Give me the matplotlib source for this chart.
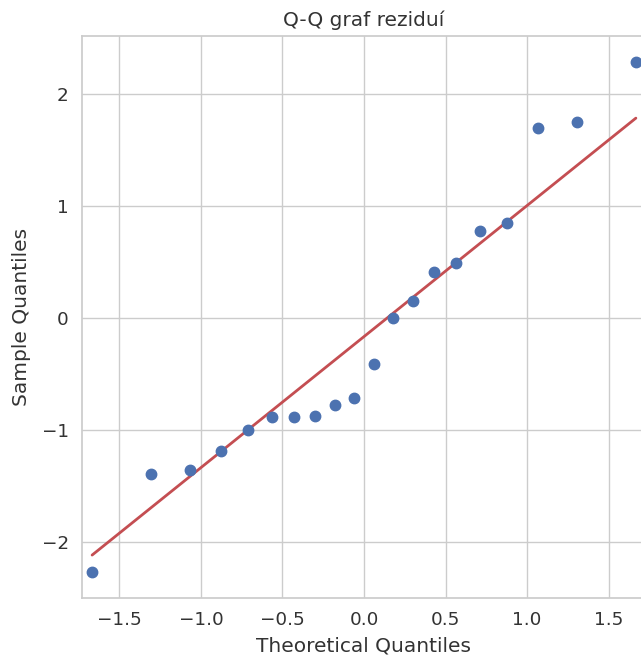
import matplotlib
matplotlib.use("Agg")
import matplotlib.pyplot as plt
import numpy as np
import seaborn as sns

sns.set_theme(style="whitegrid", context="notebook")
plt.rcParams['font.family'] = ['DejaVu Sans']

# Theoretical quantiles (normal) and sample quantiles of residuals
theoretical = [-1.668, -1.309, -1.068, -0.876, -0.712, -0.566, -0.431, -0.303, -0.180, -0.060,
               0.060, 0.180, 0.303, 0.431, 0.566, 0.712, 0.876, 1.068, 1.309, 1.668]
sample = [-2.27, -1.39, -1.36, -1.19, -1.00, -0.885, -0.885, -0.877, -0.78, -0.715,
          -0.41, 0.00, 0.152, 0.41, 0.49, 0.78, 0.85, 1.70, 1.75, 2.29]
line_slope = 1.17
line_intercept = -0.165

title = "Q-Q graf reziduí"
xlabel = "Theoretical Quantiles"
ylabel = "Sample Quantiles"

fig = plt.figure(figsize=(6.41, 6.60), dpi=100)
W, H = 641, 660
left_px, right_px, top_px, bottom_px = 82, 646, 36, 598
ax = fig.add_axes([left_px / W, 1 - bottom_px / H, (right_px - left_px) / W, (bottom_px - top_px) / H])

x = np.array(theoretical)
ax.plot(x, sample, 'o', color="#4C72B0", markersize=7.5, zorder=3)
ax.plot(x, line_slope * x + line_intercept, '-', color="#C44E52", linewidth=2, zorder=2)

ax.set_xlim(-1.73, 1.73)
ax.set_ylim(-2.50, 2.52)
ax.set_xticks([-1.5, -1.0, -0.5, 0.0, 0.5, 1.0, 1.5])
ax.set_yticks([-2, -1, 0, 1, 2])
ax.set_title(title, fontsize=14.5, color="#333333", pad=7)
ax.set_xlabel(xlabel, fontsize=14.5, color="#333333", labelpad=5)
ax.set_ylabel(ylabel, fontsize=14.5, color="#333333", labelpad=8)
ax.tick_params(labelsize=13.2, labelcolor="#333333")

fig.savefig("out.png", dpi=100)
